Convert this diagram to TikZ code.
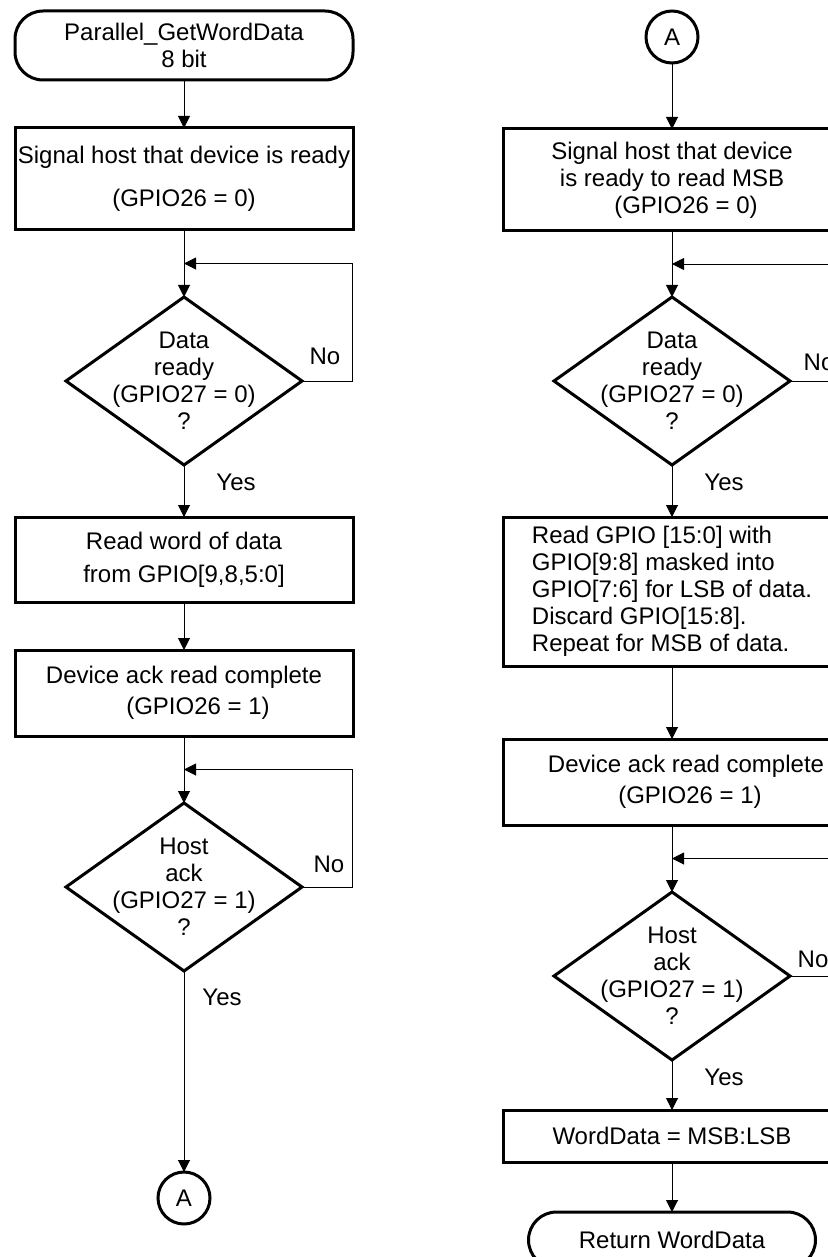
\documentclass[tikz,border=0pt]{standalone}
\usepackage{fontspec}
\setmainfont{Liberation Sans}
\usetikzlibrary{shapes.geometric, arrows.meta, calc, positioning}

\begin{document}
\begin{tikzpicture}[x=0.5pt, y=-0.5pt,
    font=\fontsize{12}{13.5}\selectfont,
    every node/.style={outer sep=0pt},
    term/.style={rectangle, rounded corners=14pt, draw, line width=1.5pt,
                 minimum width=169pt, minimum height=34.5pt, align=center},
    box/.style={rectangle, draw, line width=1.5pt, minimum width=169pt,
                inner sep=1pt, align=center},
    decision/.style={diamond, draw, line width=1.5pt, minimum width=118pt,
                     minimum height=84pt, inner sep=0pt},
    conn/.style={circle, draw, line width=1.5pt, minimum size=26pt, inner sep=0pt},
    arr/.style={-{Triangle[length=6pt, width=6pt]}, line width=0.5pt},
    lbl/.style={inner sep=0pt}
  ]
  \clip (0,0) rectangle (828,1257);

  % Left column
  \node[term] (start) at (184,45.5) {Parallel\_GetWordData\\8 bit};
  \node[box, minimum height=51pt] (sig) at (184,179)
       {Signal host that device is ready\\[8pt](GPIO26 = 0)};
  \node[decision, label={[align=center]center:Data\\ready\\(GPIO27 = 0)\\?}]
       (dready) at (184,381) {};
  \node[box, minimum height=42.5pt] (rword) at (184,559.5)
       {Read word of data\\[3pt]from GPIO[9,8,5:0]};
  \node[box, minimum height=43pt] (ack) at (184,693)
       {Device ack read complete\\[2pt]\hspace*{14pt}(GPIO26 = 1)};
  \node[decision, label={[align=center]center:Host\\ack\\(GPIO27 = 1)\\?}]
       (dhost) at (184,887) {};
  \node[conn] (aout) at (184,1198) {A};

  \coordinate (jready) at ($(sig.south)!0.5!(dready.north)$);
  \coordinate (jhost) at ($(ack.south)!0.5!(dhost.north)$);

  \draw[arr] (start) -- (sig);
  \draw[arr] (sig) -- (dready);
  \draw[arr] (dready.east) -- ++(50,0) |- (jready);
  \node[lbl] at ([shift={(23,-25)}]dready.east) {No};
  \draw[arr] (dready) -- (rword);
  \node[lbl] at ([shift={(52,17)}]dready.south) {Yes};
  \draw[arr] (rword) -- (ack);
  \draw[arr] (ack) -- (dhost);
  \draw[arr] (dhost.east) -- ++(50,0) |- (jhost);
  \node[lbl] at ([shift={(27,-23)}]dhost.east) {No};
  \draw[arr] (dhost) -- (aout);
  \node[lbl] at ([shift={(38,26)}]dhost.south) {Yes};

  % Right column
  \node[conn] (ain) at (672,37) {A};
  \node[box, minimum height=51pt] (sigmsb) at (672,180)
       {Signal host that device\\is ready to read MSB\\\hspace*{14pt}(GPIO26 = 0)};
  \node[decision, label={[align=center]center:Data\\ready\\(GPIO27 = 0)\\?}]
       (dready2) at (672,381) {};
  \node[box, minimum height=74.5pt, align=left] (rgpio) at (672,591.5)
       {Read GPIO [15:0] with\\GPIO[9:8] masked into\\GPIO[7:6] for LSB of data.\\Discard GPIO[15:8].\\Repeat for MSB of data.};
  \node[box, minimum height=43pt] (ack2) at (672,782)
       {\hspace*{14pt}Device ack read complete\\[2pt]\hspace*{18pt}(GPIO26 = 1)};
  \node[decision, label={[align=center]center:Host\\ack\\(GPIO27 = 1)\\?}]
       (dhost2) at (672,976) {};
  \node[box, minimum height=26pt] (wdata) at (672,1136) {WordData = MSB:LSB};
  \node[term, minimum width=143.5pt, minimum height=28pt] (ret) at (672,1240)
       {Return WordData};

  \coordinate (jready2) at ($(sigmsb.south)!0.5!(dready2.north)$);
  \coordinate (jhost2) at ($(ack2.south)!0.5!(dhost2.north)$);

  \draw[arr] (ain) -- (sigmsb);
  \draw[arr] (sigmsb) -- (dready2);
  \draw[arr] (dready2.east) -- ++(50,0) |- (jready2);
  \node[lbl] at ([shift={(29,-19)}]dready2.east) {No};
  \draw[arr] (dready2) -- (rgpio);
  \node[lbl] at ([shift={(52,17)}]dready2.south) {Yes};
  \draw[arr] (rgpio) -- (ack2);
  \draw[arr] (ack2) -- (dhost2);
  \draw[arr] (dhost2.east) -- ++(50,0) |- (jhost2);
  \node[lbl] at ([shift={(23,-17)}]dhost2.east) {No};
  \draw[arr] (dhost2) -- (wdata);
  \node[lbl] at ([shift={(52,17)}]dhost2.south) {Yes};
  \draw[arr] (wdata) -- (ret);
\end{tikzpicture}
\end{document}
